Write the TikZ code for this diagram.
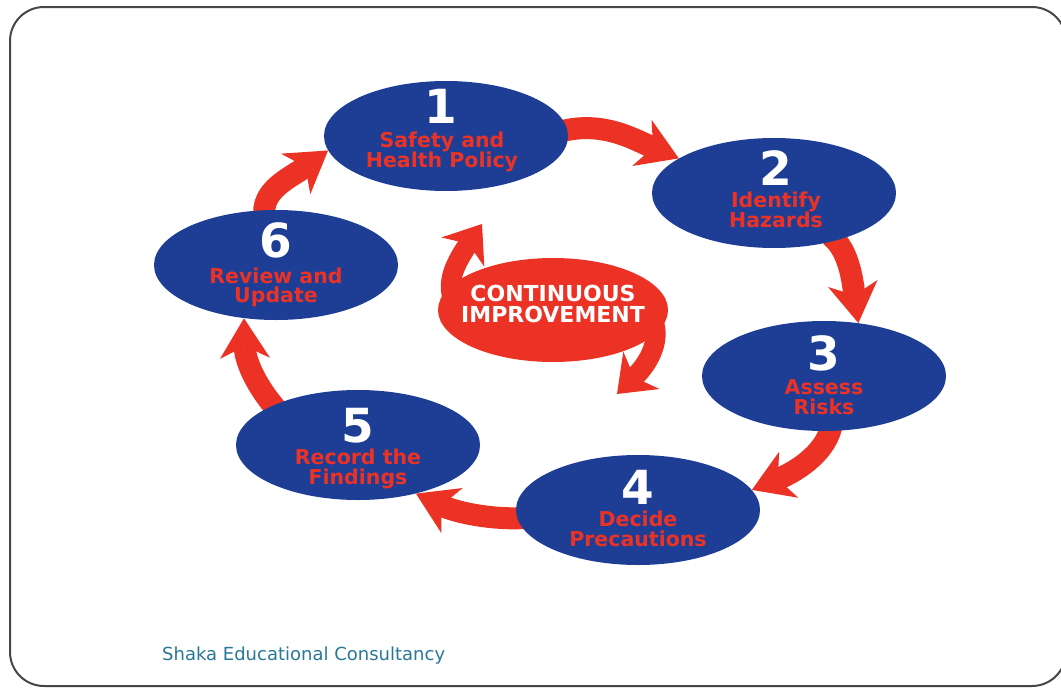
\documentclass[tikz,border=0pt]{standalone}
\usepackage{fontspec}
\newfontfamily\dvs{DejaVu Sans}
\usetikzlibrary{shapes.geometric,arrows.meta,backgrounds,calc}
\definecolor{ovalblue}{RGB}{30,62,150}
\definecolor{flowred}{RGB}{236,50,36}
\definecolor{footteal}{RGB}{40,120,150}
\definecolor{framegray}{RGB}{70,70,70}
\begin{document}
\begin{tikzpicture}[x=1pt,y=-1pt,
  stepoval/.style={ellipse, fill=ovalblue, draw=none, minimum width=244pt, minimum height=110pt, inner sep=0pt},
  numtxt/.style={text=white, font={\dvs\bfseries\fontsize{47}{47}\selectfont}, inner sep=0pt, anchor=base},
  labtxt/.style={text=flowred, font={\dvs\bfseries\fontsize{20.5}{19.5}\selectfont\lineskiplimit=-100pt}, align=center, inner sep=0pt},
  flow/.style={draw=flowred, line width=22pt, shorten <=-8pt,
    -{Stealth[length=40pt 0 0, width=50pt 0 0, inset=12pt 0 0, line width=0pt 0 0]}},
  cflow/.style={draw=flowred, line width=20pt,
    -{Stealth[length=34pt 0 0, width=52pt 0 0, inset=10pt 0 0, line width=0pt 0 0]}},
]
\useasboundingbox (0,0) rectangle (1061,688);
\draw[framegray, line width=2pt, rounded corners=34pt] (10,7) rectangle (1066,686);

% step ovals
\node[stepoval] (s1) at (446,136) {};
\node[stepoval] (s2) at (774,193) {};
\node[stepoval] (s3) at (824,376) {};
\node[stepoval] (s4) at (638,510) {};
\node[stepoval] (s5) at (358,445) {};
\node[stepoval] (s6) at (276,265) {};

% centre blob
\node[ellipse, fill=flowred, minimum width=230pt, minimum height=104pt, inner sep=0pt] (ci) at (553,310) {};
\node[text=white, font={\dvs\bfseries\fontsize{22}{20.5}\selectfont\lineskiplimit=-100pt}, align=center, inner sep=0pt] (citext) at (553,304) {CONTINUOUS\\IMPROVEMENT};
\coordinate (cia) at (482,224);
\coordinate (cib) at (617,394);

% numbers
\node[numtxt] (n1) at (441,123) {1};
\node[numtxt] (n2) at (776,185) {2};
\node[numtxt] (n3) at (824,370) {3};
\node[numtxt] (n4) at (638,504) {4};
\node[numtxt] (n5) at (358,442) {5};
\node[numtxt] (n6) at (276,257) {6};

% labels
\node[labtxt] (l1) at (442,152) {Safety and\\Health Policy};
\node[labtxt] (l2) at (776,210) {Identify\\Hazards};
\node[labtxt] (l3) at (824,397) {Assess\\Risks};
\node[labtxt] (l4) at (638,529) {Decide\\Precautions};
\node[labtxt] (l5) at (358,469) {Record the\\Findings};
\node[labtxt] (l6) at (276,287.5) {Review and\\Update};

% footer
\node[anchor=base west, inner sep=0pt, text=footteal, font={\dvs\fontsize{18}{20}\selectfont}] (foot) at (162,660) {Shaka Educational Consultancy};

\begin{pgfonlayer}{background}
\draw[flow] (s1.3) .. controls (603,120) and (635,140) .. (s2.160);
\draw[flow] (s2.-37) .. controls (850,250) and (853,285) .. (s3.57);
\draw[flow] (s3.-83) .. controls (828,450) and (800,470) .. (s4.10);
\draw[flow] (s4.184) .. controls (490,520) and (455,512) .. (s5.-40);
\draw[flow] (s5.155) .. controls (255,385) and (245,360) .. (s6.-121);
\draw[flow] (s6.103) .. controls (260,190) and (290,178) .. (s1.187);
\draw[cflow] ($(ci.center)+(-98,-5)$) .. controls (446,285) and (452,268) .. (cia);
\draw[cflow] ($(ci.center)+(99,8)$) .. controls (662,338) and (650,362) .. (cib);
\end{pgfonlayer}
\end{tikzpicture}
\end{document}
